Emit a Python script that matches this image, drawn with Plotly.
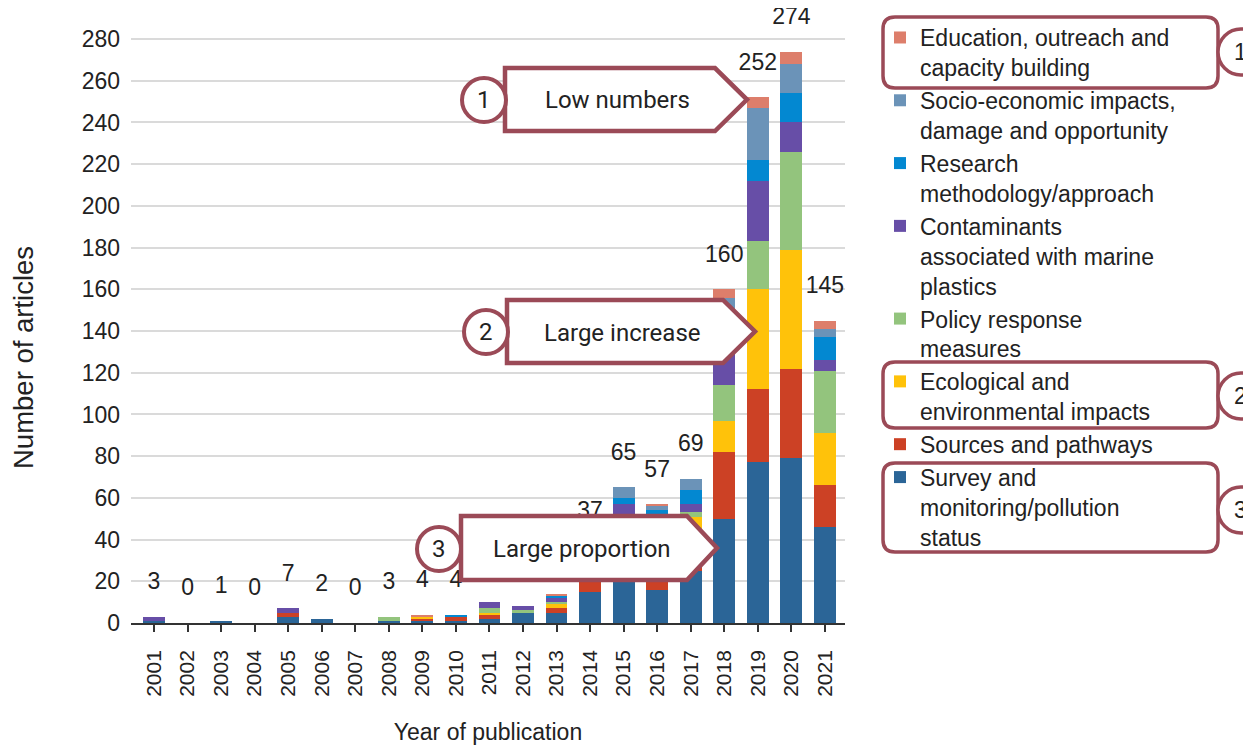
import plotly.graph_objects as go

# ---------------- data ----------------
years = [str(y) for y in range(2001, 2022)]

survey       = [1, 0, 1, 0, 3, 2, 0, 1, 1, 1, 2, 5, 5, 15, 30, 16, 25, 50, 77, 79, 46]
sources      = [0, 0, 0, 0, 2, 0, 0, 0, 1, 2, 2, 0, 2, 7, 9, 10, 14, 32, 35, 43, 20]
ecological   = [0, 0, 0, 0, 0, 0, 0, 0, 1, 0, 1, 0, 2, 5, 7, 10, 12, 15, 48, 57, 25]
policy       = [0, 0, 0, 0, 0, 0, 0, 2, 0, 0, 2, 1, 1, 3, 5, 8, 2, 17, 23, 47, 30]
contaminants = [2, 0, 0, 0, 2, 0, 0, 0, 0, 0, 3, 2, 2, 4, 6, 8, 4, 25, 29, 14, 5]
research     = [0, 0, 0, 0, 0, 0, 0, 0, 0, 1, 0, 0, 1, 1, 3, 2, 7, 8, 10, 14, 11]
socio        = [0, 0, 0, 0, 0, 0, 0, 0, 0, 0, 0, 0, 0, 2, 5, 2, 5, 9, 25, 14, 4]
education    = [0, 0, 0, 0, 0, 0, 0, 0, 1, 0, 0, 0, 1, 0, 0, 1, 0, 4, 5, 6, 4]

totals = [3, 0, 1, 0, 7, 2, 0, 3, 4, 4, 10, 8, 14, 37, 65, 57, 69, 160, 252, 274, 145]

series_names = [
    "Survey and<br>monitoring/pollution<br>status",
    "Sources and pathways",
    "Ecological and<br>environmental impacts",
    "Policy response<br>measures",
    "Contaminants<br>associated with marine<br>plastics",
    "Research<br>methodology/approach",
    "Socio-economic impacts,<br>damage and opportunity",
    "Education, outreach and<br>capacity building",
]
series_values = [survey, sources, ecological, policy, contaminants, research, socio, education]
series_colors = ["#2B6597", "#CC4125", "#FFC20A", "#93C47D", "#674EA7", "#0388D1", "#6B93B8", "#DD7E6B"]

y_ticks = list(range(0, 281, 20))

# ---------------- style ----------------
FONT = "Arial, Liberation Sans, sans-serif"
BOX_FONT = "Roboto, sans-serif"
RED = "#9B4A57"
TXT = "#222222"
LABEL_OFFSET = 16  # data units above each bar
Y_MAX = 292

W, H = 1251, 750
BODY = 8  # page body margin
# plot area in page pixels
PX_PER_UNIT = 584 / 280
PL, PR, PB = 131, 845, 623
PT = PB - Y_MAX * PX_PER_UNIT


def fx(x):
    return (x - PL) / (PR - PL)


def fy(y):
    return (PB - y) / (PB - PT)


fig = go.Figure()
for name, vals, col in zip(series_names, series_values, series_colors):
    fig.add_trace(go.Bar(
        x=years, y=vals, name=name, marker=dict(color=col, line=dict(width=0)),
    ))

fig.add_trace(go.Scatter(
    x=years, y=[t + LABEL_OFFSET for t in totals], mode="text",
    text=[str(t) for t in totals], textposition="middle center",
    textfont=dict(family=FONT, size=23, color=TXT),
    showlegend=False, cliponaxis=False, hoverinfo="skip",
))

shapes = []
annotations = []


def label(x, y, text, size, family, angle=0):
    annotations.append(dict(x=fx(x), y=fy(y), xref="paper", yref="paper", text=text,
                            xanchor="center", yanchor="middle", textangle=angle,
                            showarrow=False, font=dict(family=family, size=size, color=TXT)))


def circle(cx, cy, r, width):
    shapes.append(dict(type="circle", xref="paper", yref="paper",
                       x0=fx(cx - r), x1=fx(cx + r), y0=fy(cy + r), y1=fy(cy - r),
                       line=dict(color=RED, width=width), fillcolor="white", layer="above"))


def arrow_box(left, top, body_right, tip_x, bottom, text, tx, ty, num, cx, cy, r=22):
    mid = (top + bottom) / 2
    path = (f"M{fx(left)},{fy(top)} L{fx(body_right)},{fy(top)} L{fx(tip_x)},{fy(mid)} "
            f"L{fx(body_right)},{fy(bottom)} L{fx(left)},{fy(bottom)} Z")
    shapes.append(dict(type="path", path=path, xref="paper", yref="paper",
                       line=dict(color=RED, width=4.5), fillcolor="white", layer="above"))
    circle(cx, cy, r, 4)
    label(tx, ty, text, 24, BOX_FONT)
    label(cx, cy, num, 24, BOX_FONT)


arrow_box(505, 68, 715, 747, 131, "Low numbers", 617, 100, "1", 484, 100)
arrow_box(507, 300, 723, 755, 363, "Large increase", 622, 333, "2", 486, 332)
arrow_box(461, 516, 687, 717, 580, "Large proportion", 582, 549, "3", 439, 549)


def round_box(x0, y0, x1, y1, num, cy, r=12, cr=23):
    rx = r / (PR - PL)
    ry = r / (PB - PT)
    a, b, c, d = fx(x0), fx(x1), fy(y0), fy(y1)  # c = top, d = bottom
    path = (f"M{a + rx},{c} H{b - rx} Q{b},{c} {b},{c - ry} V{d + ry} Q{b},{d} {b - rx},{d} "
            f"H{a + rx} Q{a},{d} {a},{d + ry} V{c - ry} Q{a},{c} {a + rx},{c} Z")
    shapes.append(dict(type="path", path=path, xref="paper", yref="paper",
                       line=dict(color=RED, width=3.5), layer="above"))
    circle(1241, cy, cr, 3.5)
    label(1240, cy, num, 23, FONT)


round_box(883, 17, 1218, 88, "1", 52)
round_box(883, 362, 1218, 428, "2", 396)
round_box(883, 463, 1218, 552, "3", 510)

label(23, 358, "Number of articles", 27.5, FONT, angle=-90)

fig.update_layout(
    width=W, height=H,
    margin=dict(l=PL - BODY, r=W - (PR - BODY), t=PT - BODY, b=H - (PB - BODY), autoexpand=False),
    paper_bgcolor="white", plot_bgcolor="white",
    barmode="stack", bargap=0.35,
    font=dict(family=FONT, size=22, color=TXT),
    showlegend=True,
    legend=dict(
        x=fx(880), y=fy(16), xanchor="left", yanchor="top",
        traceorder="reversed", valign="top", tracegroupgap=0, maxheight=720,
        font=dict(family=FONT, size=23, color=TXT),
        bgcolor="rgba(0,0,0,0)",
    ),
    shapes=shapes, annotations=annotations,
)

fig.update_xaxes(
    range=[-0.686, 20.6], tickangle=-90, showgrid=False,
    showline=True, linecolor="#333333", linewidth=1.5,
    ticks="outside", ticklen=7, tickwidth=1.5, tickcolor="#333333",
    tickfont=dict(family=FONT, size=21, color=TXT), ticklabelstandoff=10,
    title=dict(text="Year of publication", font=dict(family=FONT, size=23, color=TXT), standoff=28),
)
fig.update_yaxes(
    range=[0, Y_MAX], tickvals=y_ticks, showgrid=True, gridcolor="#DADADA", gridwidth=1.5,
    zeroline=False, showline=False, ticks="",
    tickfont=dict(family=FONT, size=23, color=TXT), ticklabelstandoff=10,
)

fig.write_html("out.html")
